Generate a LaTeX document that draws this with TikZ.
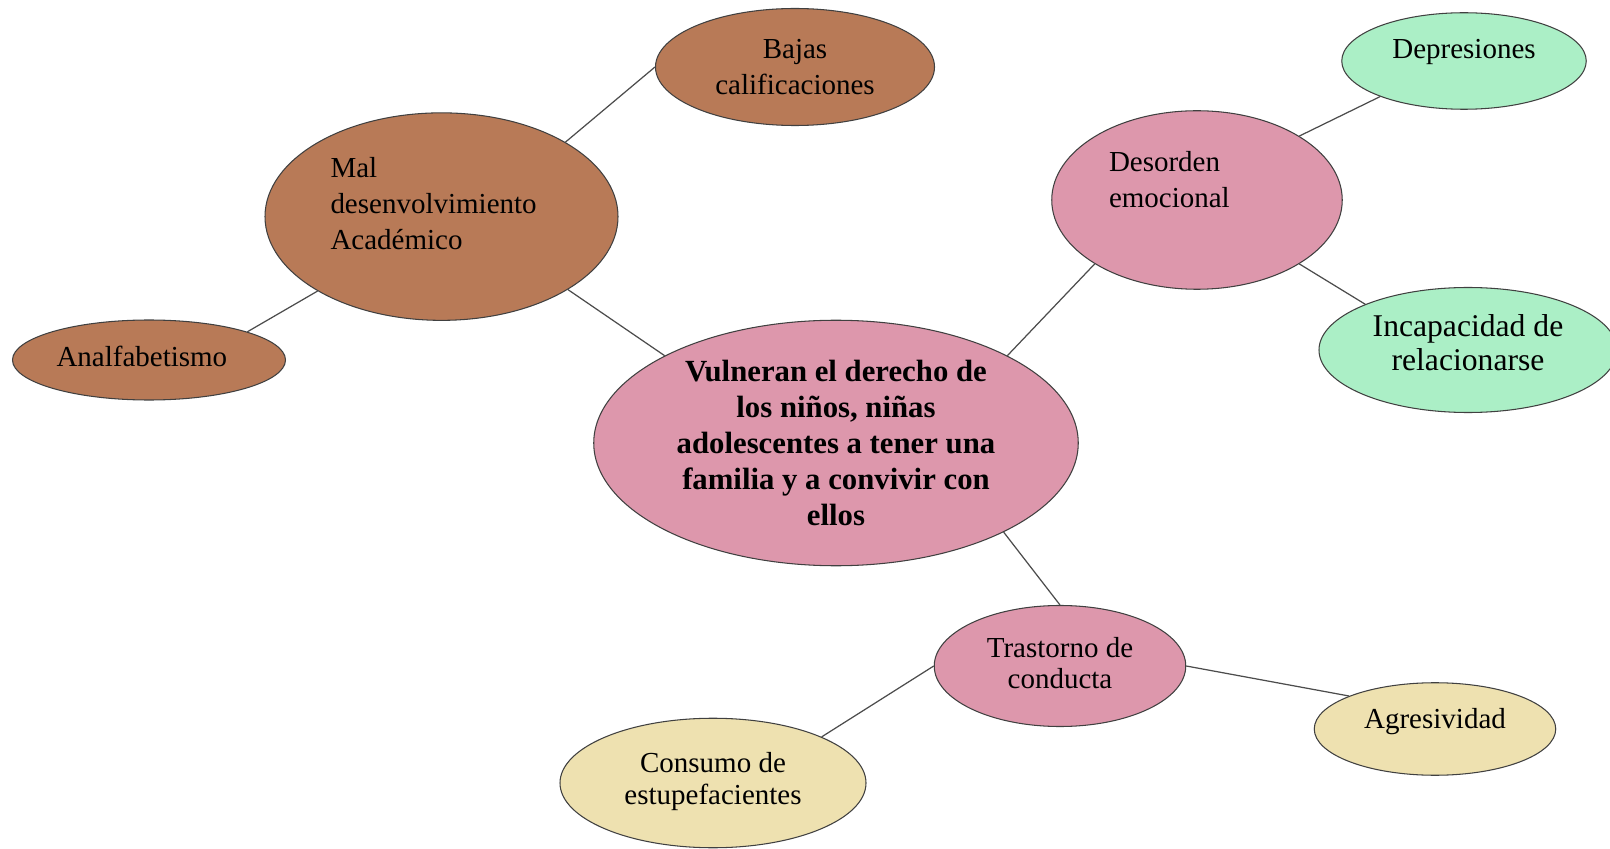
\documentclass[tikz,border=0pt]{standalone}
\usepackage{fontspec}
\setmainfont{Liberation Serif}
\usetikzlibrary{shapes.geometric}
\definecolor{cafe}{RGB}{184,122,87}
\definecolor{rosa}{RGB}{221,151,172}
\definecolor{verde}{RGB}{171,239,198}
\definecolor{crema}{RGB}{238,225,176}

\begin{document}
\begin{tikzpicture}[
  every node/.style={ellipse, draw=black!75, line width=0.6pt, inner sep=0pt, align=center,
    font=\fontsize{16.5}{20.5}\selectfont},
  link/.style={draw=black!70, line width=0.7pt}]
\useasboundingbox (0,0) rectangle (32.2,16.96);
\node[fill=rosa, minimum width=9.69cm, minimum height=4.91cm,
  font=\fontsize{17.5}{20.5}\selectfont\bfseries] (N0) at (16.720, 8.100)
  {Vulneran el derecho de\\los niños, niñas\\adolescentes a tener una\\familia y a convivir con\\ellos};
\node[fill=cafe, minimum width=7.06cm, minimum height=4.15cm, text width=4.44cm, align=left,
  text depth=56pt] (N1) at (8.830, 12.628) {Mal\\desenvolvimiento\\Académico};
\node[fill=cafe, minimum width=5.58cm, minimum height=2.34cm] (N2) at (15.900, 15.620) {Bajas\\calificaciones};
\node[fill=cafe, minimum width=5.46cm, minimum height=1.60cm, text width=3.70cm, align=left,
  text depth=4.6pt] (N3) at (2.980, 9.760) {Analfabetismo};
\node[fill=rosa, minimum width=5.81cm, minimum height=3.57cm, text width=3.52cm, align=left,
  text depth=44pt] (N4) at (23.940, 12.960) {Desorden\\emocional};
\node[fill=verde, minimum width=4.89cm, minimum height=1.93cm, text depth=13.4pt] (N5) at (29.280, 15.740) {Depresiones};
\node[fill=verde, minimum width=5.96cm, minimum height=2.50cm, text depth=8.2pt,
  font=\fontsize{18}{19.5}\selectfont] (N6) at (29.360, 9.960) {Incapacidad de\\relacionarse};
\node[fill=rosa, minimum width=5.03cm, minimum height=2.42cm, text depth=3.5pt,
  font=\fontsize{16.5}{18}\selectfont] (N7) at (21.200, 3.640) {Trastorno de\\conducta};
\node[fill=crema, minimum width=4.83cm, minimum height=1.85cm, text depth=11.6pt] (N8) at (28.700, 2.380) {Agresividad};
\node[fill=crema, minimum width=6.12cm, minimum height=2.59cm, text depth=5.4pt,
  font=\fontsize{16.5}{18}\selectfont] (N9) at (14.260, 1.300) {Consumo de\\estupefacientes};
\draw[link] (N1.31) -- (N2.west);
\draw[link] (N1.211) -- (N3.16);
\draw[link] (N1.330) -- (N0.153);
\draw[link] (N0.27) -- (N4.212);
\draw[link] (N4.32) -- (N5.203);
\draw[link] (N4.328) -- (N6.156);
\draw[link] (N0.332) -- (N7.north);
\draw[link] (N7.west) -- (N9.23);
\draw[link] (N7.east) -- (N8.159);
\end{tikzpicture}
\end{document}
